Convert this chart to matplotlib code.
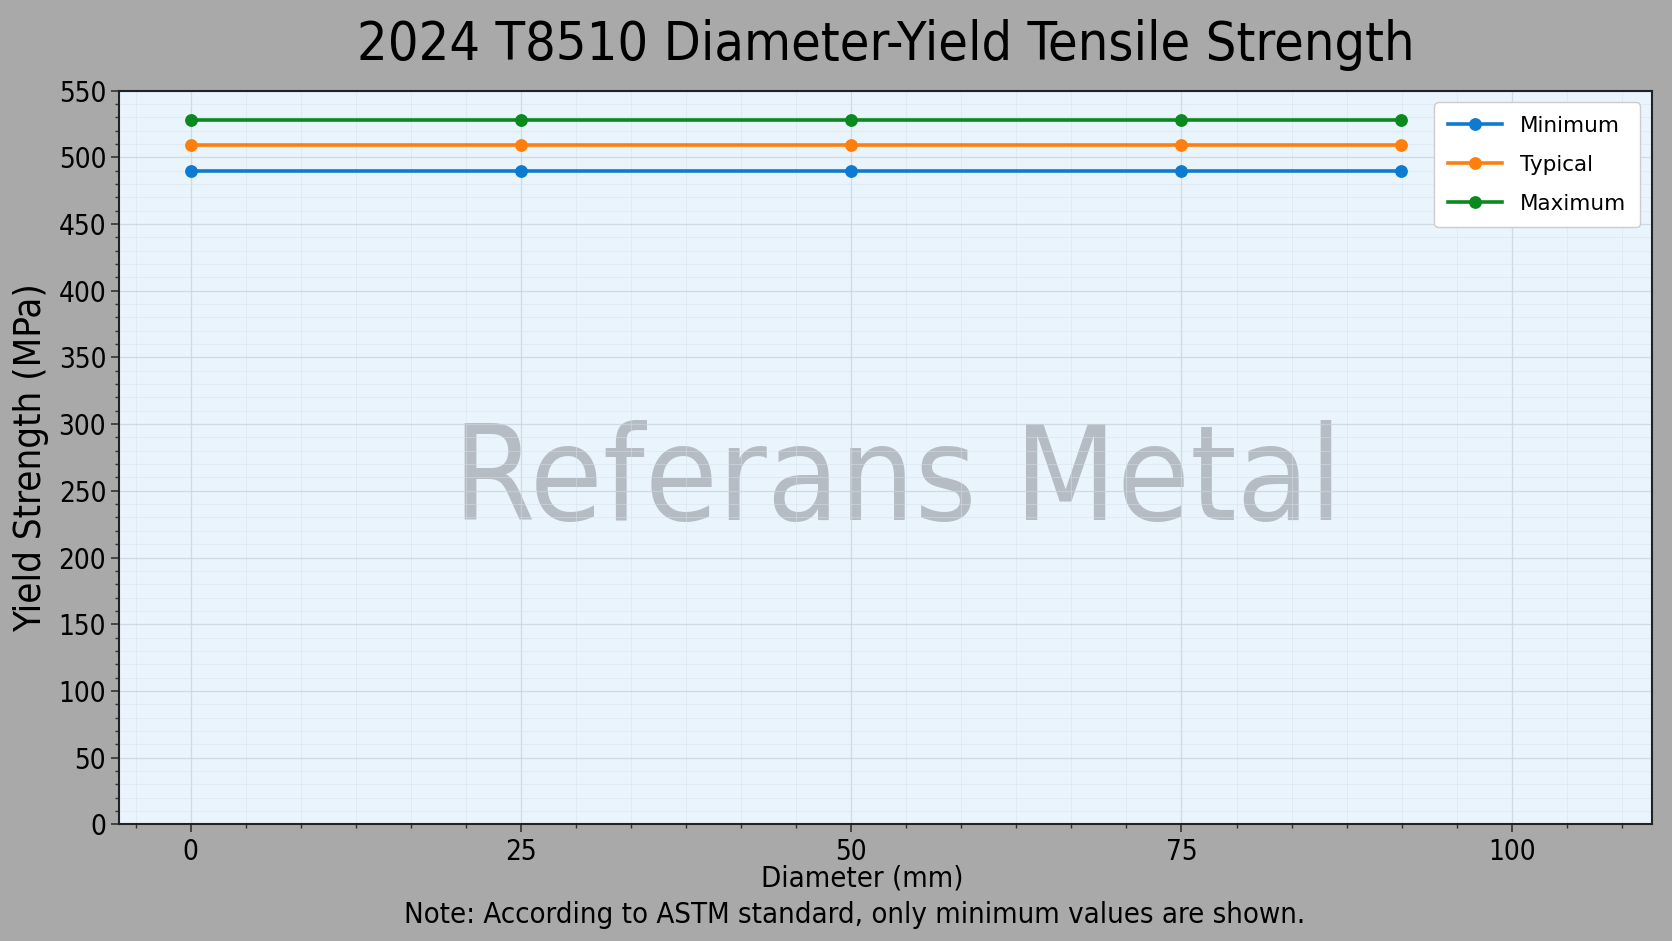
import matplotlib
matplotlib.use("Agg")
import matplotlib.pyplot as plt
from matplotlib.ticker import MultipleLocator

diameters = [0, 25, 50, 75, 91.6]
minimum = [490, 490, 490, 490, 490]
typical = [509, 509, 509, 509, 509]
maximum = [528, 528, 528, 528, 528]
series_names = ["Minimum", "Typical", "Maximum"]
xticks = [0, 25, 50, 75, 100]

plt.rcParams['font.family'] = ['DejaVu Sans']
plt.rcParams['font.stretch'] = 'condensed'

fig = plt.figure(figsize=(16.72, 9.41), dpi=100, facecolor='#a9a9a9')
ax = fig.add_axes([0.0714, 0.124, 0.9165, 0.7797])
ax.set_facecolor('#eaf4fd')

colors = ['#0f7bd0', '#ff7f0e', '#0a8a1e']
for vals, name, c in zip([minimum, typical, maximum], series_names, colors):
    ax.plot(diameters, vals, '-o', color=c, lw=2.6, markersize=8.2, label=name, zorder=3)

ax.set_xlim(-5.4, 110.6)
ax.set_ylim(0, 550)
ax.set_xticks(xticks)
ax.xaxis.set_minor_locator(MultipleLocator(25 / 6))
ax.yaxis.set_major_locator(MultipleLocator(50))
ax.yaxis.set_minor_locator(MultipleLocator(10))
ax.grid(True, which='major', color='#c8d2dc', lw=0.9, alpha=0.75)
ax.grid(True, which='minor', color='#d6e0ea', lw=0.6, alpha=0.55)
ax.tick_params(axis='both', which='major', labelsize=20, length=6, width=1.2, color='#333333')
ax.tick_params(axis='both', which='minor', length=3, width=1, color='#333333')
for s in ax.spines.values():
    s.set_color('#222222')
    s.set_linewidth(1.5)

ax.set_title("2024 T8510 Diameter-Yield Tensile Strength", fontsize=38.7, pad=22)
ax.set_xlabel("Diameter (mm)", fontsize=21)
ax.xaxis.set_label_coords(0.485, -0.055)
ax.set_ylabel("Yield Strength (MPa)", fontsize=27.5, labelpad=7)
ax.text(0.508, 0.464, "Referans Metal", transform=ax.transAxes, fontsize=95,
        color='#8a8f96', alpha=0.55, ha='center', va='center', zorder=1)
fig.text(0.511, 0.028, "Note: According to ASTM standard, only minimum values are shown.",
         fontsize=21, ha='center', va='center')
leg = ax.legend(loc='upper right', framealpha=1.0, edgecolor='#cccccc',
                prop={'family': 'DejaVu Sans', 'stretch': 'normal', 'size': 15.5},
                labelspacing=0.88, borderpad=0.62, handlelength=2.52, handletextpad=0.85,
                borderaxespad=0.55)

fig.savefig("out.png", dpi=100, facecolor=fig.get_facecolor())
